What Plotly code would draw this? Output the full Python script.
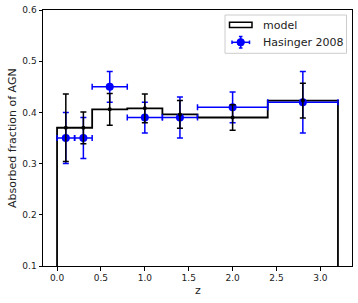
import plotly.graph_objects as go

# Model histogram (step)
model_edges = [0.0, 0.2, 0.4, 0.8, 1.2, 1.6, 2.4, 3.2]
model_frac = [0.370, 0.370, 0.406, 0.408, 0.396, 0.390, 0.423]

# Model error bars
model_z = [0.1, 0.3, 0.6, 1.0, 1.4, 2.0, 2.8]
model_err = [0.066, 0.031, 0.031, 0.028, 0.027, 0.025, 0.034]

# Hasinger 2008 data
has_z = [0.1, 0.3, 0.6, 1.0, 1.4, 2.0, 2.8]
has_zerr = [0.1, 0.1, 0.2, 0.2, 0.2, 0.4, 0.4]
has_frac = [0.35, 0.35, 0.45, 0.39, 0.39, 0.41, 0.42]
has_err = [0.05, 0.04, 0.03, 0.03, 0.04, 0.03, 0.06]

x_ticks = [0.0, 0.5, 1.0, 1.5, 2.0, 2.5, 3.0]
y_ticks = [0.1, 0.2, 0.3, 0.4, 0.5, 0.6]

W, H = 358, 303
ML, MR, MT, MB = 43, 6, 10, 37
PW, PH = W - ML - MR, H - MT - MB


def px(x):
    return (x - ML) / PW


def py(y):
    return 1 - (y - MT) / PH


step_x = [model_edges[0]] + model_edges[:-1] + [model_edges[-1], model_edges[-1]]
step_y = [0.0] + model_frac + [model_frac[-1], 0.0]

fig = go.Figure()
fig.add_trace(go.Scatter(x=step_x, y=step_y, mode="lines", line_shape="hv",
                         line=dict(color="black", width=1.8), showlegend=False,
                         hoverinfo="skip"))
fig.add_trace(go.Scatter(x=has_z, y=has_frac, mode="markers", name="Hasinger 2008",
                         showlegend=False,
                         marker=dict(color="blue", size=8),
                         error_x=dict(type="data", array=has_zerr, color="blue",
                                      thickness=1.5, width=3),
                         error_y=dict(type="data", array=has_err, color="blue",
                                      thickness=1.5, width=3)))
fig.add_trace(go.Scatter(x=model_z, y=model_frac, mode="markers", showlegend=False,
                         marker=dict(color="black", size=4),
                         error_y=dict(type="data", array=model_err, color="black",
                                      thickness=1.5, width=3)))

axis_common = dict(showline=True, linecolor="black", linewidth=1, mirror=True,
                   showgrid=False, zeroline=False, ticks="outside", ticklen=3.5,
                   tickwidth=1, tickcolor="black", automargin=False,
                   tickfont=dict(family="DejaVu Sans", size=9, color="#222"))

# Manual legend (matplotlib style)
shapes = [
    dict(type="rect", xref="paper", yref="paper", x0=px(225), x1=px(346.5),
         y0=py(53.3), y1=py(15), line=dict(color="#cccccc", width=1),
         fillcolor="rgba(255,255,255,0.8)", layer="above"),
    dict(type="rect", xref="paper", yref="paper", x0=px(229.5), x1=px(252),
         y0=py(27.5), y1=py(22.3), line=dict(color="black", width=1.5),
         fillcolor="white", layer="above"),
    # errorbar sample
    dict(type="line", xref="paper", yref="paper", x0=px(232), x1=px(249.5),
         y0=py(42.3), y1=py(42.3), line=dict(color="blue", width=1.5), layer="above"),
    dict(type="line", xref="paper", yref="paper", x0=px(240.7), x1=px(240.7),
         y0=py(36.5), y1=py(48), line=dict(color="blue", width=1.5), layer="above"),
    dict(type="line", xref="paper", yref="paper", x0=px(232), x1=px(232),
         y0=py(40.5), y1=py(44.1), line=dict(color="blue", width=1.5), layer="above"),
    dict(type="line", xref="paper", yref="paper", x0=px(249.5), x1=px(249.5),
         y0=py(40.5), y1=py(44.1), line=dict(color="blue", width=1.5), layer="above"),
    dict(type="line", xref="paper", yref="paper", x0=px(238.9), x1=px(242.5),
         y0=py(36.5), y1=py(36.5), line=dict(color="blue", width=1.5), layer="above"),
    dict(type="line", xref="paper", yref="paper", x0=px(238.9), x1=px(242.5),
         y0=py(48), y1=py(48), line=dict(color="blue", width=1.5), layer="above"),
    dict(type="circle", xref="paper", yref="paper", x0=px(237), x1=px(244.4),
         y0=py(46), y1=py(38.6), line=dict(color="blue", width=1),
         fillcolor="blue", layer="above"),
]

txt = dict(size=11, family="DejaVu Sans", color="#222")
annotations = [
    dict(text="z", xref="paper", yref="paper", x=0.5, y=0, yshift=-24,
         xanchor="center", yanchor="middle", showarrow=False, font=txt),
    dict(text="Absorbed fraction of AGN", xref="paper", yref="paper", x=0, y=0.5,
         xshift=-31, xanchor="center", yanchor="middle", textangle=-90,
         showarrow=False, font=txt),
    dict(text="model", xref="paper", yref="paper", x=px(261), y=py(25),
         xanchor="left", yanchor="middle", showarrow=False, font=txt),
    dict(text="Hasinger 2008", xref="paper", yref="paper", x=px(261), y=py(42.3),
         xanchor="left", yanchor="middle", showarrow=False, font=txt),
]

fig.update_layout(
    width=W, height=H,
    margin=dict(l=ML, r=MR, t=MT, b=MB),
    plot_bgcolor="white", paper_bgcolor="white",
    font=dict(family="DejaVu Sans", color="#222"),
    showlegend=False,
    xaxis=dict(range=[-0.16, 3.36], tickvals=x_ticks,
               ticktext=[f"{v:.1f}" for v in x_ticks], **axis_common),
    yaxis=dict(range=[0.1, 0.6], tickvals=y_ticks,
               ticktext=[f"{v:.1f}" for v in y_ticks], **axis_common),
    shapes=shapes,
    annotations=annotations,
)

fig.write_html("out.html", config={"displayModeBar": False},
               post_script="document.body.style.margin='0';document.body.style.padding='0';")
